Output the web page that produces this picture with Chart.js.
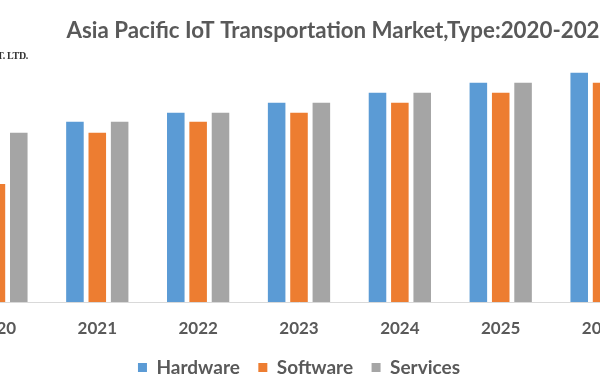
<!DOCTYPE html>
<html>
<head>
<meta charset="utf-8">
<script src="https://cdn.jsdelivr.net/npm/chart.js@4"></script>
<style>
  html, body { margin:0; padding:0; background:#ffffff; overflow:hidden; width:600px; height:380px; }
  #wrap { position:absolute; left:-54px; top:0; width:787px; height:387px; }
  #mark { position:absolute; left:-40px; top:50px; width:68px; text-align:right;
          font-family:"Liberation Serif", serif; font-size:10px; font-weight:bold; color:#333; letter-spacing:-0.3px; }
</style>
</head>
<body>
<div id="wrap"><canvas id="c" width="787" height="387"></canvas></div>
<div id="mark">PVT. LTD.</div>
<script>
const years = ['2020', '2021', '2022', '2023', '2024', '2025', '2026'];
const hardware = [169, 180, 189, 199, 209, 219, 229];
const software = [118, 169, 180, 189, 199, 209, 219];
const services = [169, 180, 189, 199, 209, 219, 229];
const seriesNames = ['Hardware', 'Software', 'Services'];
const titleText = 'Asia Pacific IoT Transportation Market,Type:2020-2027';

const colors = ['#5B9BD5', '#ED7D31', '#A5A5A5'];
const textColor = '#595959';

new Chart(document.getElementById('c'), {
  type: 'bar',
  data: {
    labels: years,
    datasets: [hardware, software, services].map((d, i) => ({
      label: seriesNames[i],
      data: d,
      backgroundColor: colors[i],
      borderWidth: 0,
      categoryPercentage: 0.665,
      barPercentage: 0.785
    }))
  },
  options: {
    responsive: false,
    animation: false,
    layout: { padding: { left: 0, right: 0, top: 0, bottom: 0 } },
    plugins: {
      title: {
        display: true,
        text: titleText,
        color: textColor,
        font: { family: 'Lato', size: 22.3, weight: 'bold' },
        padding: { top: 17, bottom: 8 }
      },
      legend: {
        position: 'bottom',
        fullSize: false,
        labels: {
          boxWidth: 9,
          boxHeight: 9,
          color: textColor,
          padding: 18.5,
          font: { family: 'Lato', size: 19, weight: 'bold' }
        }
      },
      tooltip: { enabled: false }
    },
    scales: {
      x: {
        grid: { display: false },
        border: { display: true, color: '#D9D9D9', width: 1 },
        ticks: { color: textColor, padding: 8, font: { family: 'Lato', size: 17, weight: 'bold' } },
        afterFit: s => { s.height = 37.5; }
      },
      y: {
        position: 'right',
        min: 0,
        max: 250,
        grid: { display: false },
        border: { display: false },
        ticks: { display: false },
        afterFit: s => { s.width = 81; }
      }
    }
  }
});
</script>
</body>
</html>
